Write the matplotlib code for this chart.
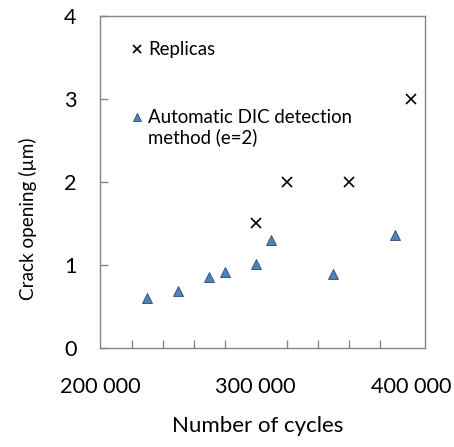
import matplotlib
matplotlib.use("Agg")
import matplotlib.pyplot as plt
from matplotlib.ticker import FixedLocator, FuncFormatter

plt.rcParams['font.family'] = ['Lato', 'DejaVu Sans']

# Data
replica_cycles = [300000, 320000, 360000, 400000]
replica_opening = [1.5, 2.0, 2.0, 3.0]
dic_cycles = [230000, 250000, 270000, 280000, 300000, 310000, 350000, 390000]
dic_opening = [0.60, 0.69, 0.85, 0.92, 1.01, 1.30, 0.89, 1.36]
x_labels = [200000, 300000, 400000]
y_ticks = [0, 1, 2, 3, 4]
replica_label = "Replicas"
dic_label_line1 = "Automatic DIC detection"
dic_label_line2 = "method (e=2)"

fig = plt.figure(figsize=(4.54, 4.47), dpi=100)
ax = fig.add_axes([0.2203, 0.2215, 0.7159, 0.7427])

spine_col = '#868686'
ax.plot(replica_cycles, replica_opening, linestyle='none', marker='x', ms=7,
        mew=1.2, color='black', label=replica_label)
ax.plot(dic_cycles, dic_opening, linestyle='none', marker='^', ms=7.5,
        mfc='#4F81BD', mec='#2E4A70', mew=0.6, label=dic_label_line1)

ax.set_xlim(199700, 409200)
ax.set_ylim(0, 4)

for s in ax.spines.values():
    s.set_color(spine_col)
    s.set_linewidth(1.0)

ax.xaxis.set_major_locator(FixedLocator(x_labels))
ax.xaxis.set_major_formatter(FuncFormatter(lambda v, p: f"{int(v):,}".replace(",", " ")))
ax.xaxis.set_minor_locator(FixedLocator(list(range(220000, 400001, 20000))))
ax.tick_params(axis='x', which='major', length=0, pad=21, labelsize=15.6)
ax.tick_params(axis='x', which='minor', direction='in', length=6, width=1.0, color=spine_col)
ax.set_yticks(y_ticks)
ax.tick_params(axis='y', which='major', direction='in', length=6, width=1.0,
               color=spine_col, pad=17, labelsize=15.6)

ax.set_xlabel("Number of cycles", fontsize=16)
ax.xaxis.set_label_coords(0.485, -0.205)
ax.set_ylabel("Crack opening (µm)", fontsize=13.6)
ax.yaxis.set_label_coords(-0.195, 0.39)

leg = ax.legend(loc='upper left', bbox_to_anchor=(0.097, 0.924), frameon=False,
                fontsize=13.4, markerscale=0.75, handlelength=0.6, handletextpad=0.3,
                labelspacing=2.75, borderpad=0, borderaxespad=0)
ax.text(0.148, 0.636, dic_label_line2, transform=ax.transAxes, fontsize=13.4,
        va='center', ha='left')

fig.savefig("out.png", dpi=100)
